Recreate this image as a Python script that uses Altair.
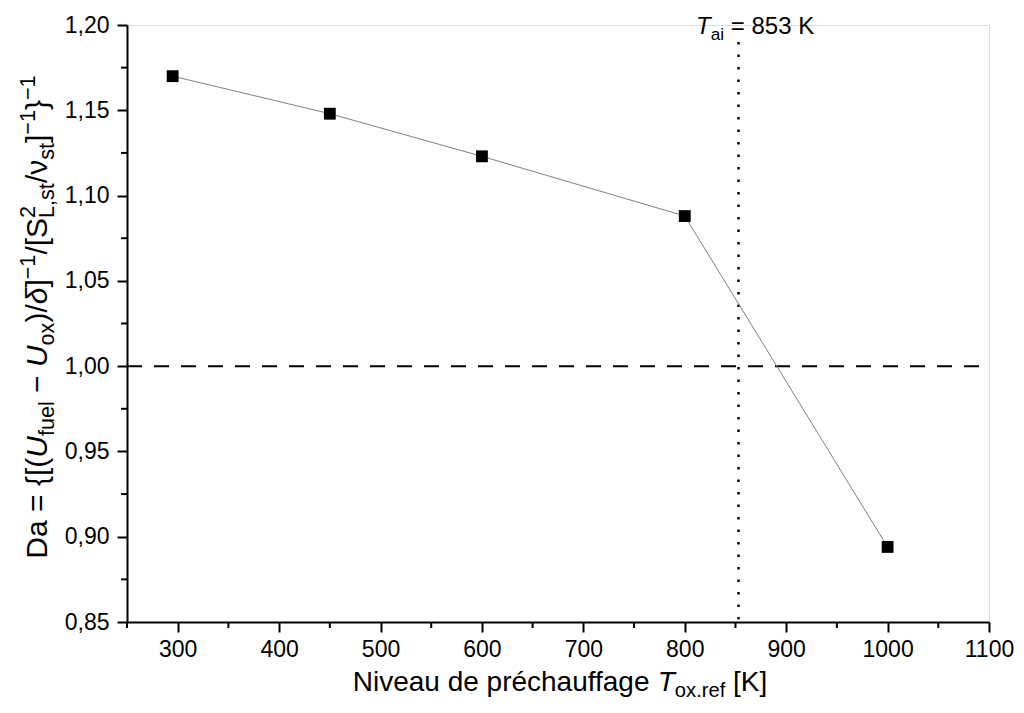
import altair as alt
import pandas as pd

# ---------------- data ----------------
T_ref = [295, 450, 600, 800, 1000]
Da = [1.170, 1.148, 1.123, 1.088, 0.894]
Da_ref = 1.0
T_ai = 853
x_ticks = [300, 400, 500, 600, 700, 800, 900, 1000, 1100]
x_minor = [250, 350, 450, 550, 650, 750, 850, 950, 1050]
y_ticks = [0.85, 0.90, 0.95, 1.00, 1.05, 1.10, 1.15, 1.20]
y_minor = [0.875, 0.925, 0.975, 1.025, 1.075, 1.125, 1.175]

# ---------------- layout ----------------
W, H = 862, 597
PAD_L, PAD_T = 119, 17
PAD_R = 1008 - PAD_L - W
PAD_B = 697 - PAD_T - H
MARGIN = 8
FONT = "Liberation Sans"


def px(xs):
    return xs - MARGIN - PAD_L


def py(ys):
    return ys - MARGIN - PAD_T


# Arial / Liberation Sans advance widths (per em)
ADV = {
    " ": .278, "=": .584, "{": .334, "}": .334, "[": .278, "]": .278, "(": .333, ")": .333,
    "/": .278, ",": .278, ".": .278, "\u2212": .584, "D": .722, "a": .556, "U": .722,
    "f": .278, "u": .556, "e": .556, "l": .222, "o": .556, "x": .5, "S": .667, "L": .556,
    "s": .5, "t": .278, "\u03b4": .556, "\u03bd": .5, "T": .611, "i": .222, "K": .667,
    "N": .722, "v": .5, "d": .556, "p": .556, "r": .333, "\u00e9": .556, "c": .5,
    "h": .556, "g": .556,
}
for ch in "0123456789":
    ADV[ch] = .556


def tw(s):
    return sum(ADV.get(c, .556) for c in s)


def place(out, text, pos, shift, size, ital):
    lead = len(text) - len(text.lstrip(" "))
    core = text.strip(" ")
    if core:
        out.append((core, pos + lead * ADV[" "] * size, shift, size, ital))


def layout(segs, f, sub=0.7, sub_shift=0.24):
    out = []
    pos = 0.0
    for text, kind, ital in segs:
        if kind == "base":
            place(out, text, pos, 0.0, f, ital)
            pos += tw(text) * f
        elif kind == "sub":
            place(out, text, pos, sub_shift * f, f * sub, ital)
            pos += tw(text) * f * sub
        elif kind == "sup":
            place(out, text, pos, -0.40 * f, f * sub, ital)
            pos += tw(text) * f * sub
        elif kind == "stack":
            sp, sb = text
            place(out, sp, pos, -0.40 * f, f * sub, ital)
            place(out, sb, pos, sub_shift * f, f * sub, ital)
            pos += max(tw(sp), tw(sb)) * f * sub
    return out, pos


def text_layer(t, x, y, dx, dy, size, italic, angle=0):
    return alt.Chart(pd.DataFrame({"t": [t]})).mark_text(
        align="left", baseline="alphabetic", dx=dx, dy=dy, fontSize=size, font=FONT,
        fontStyle="italic" if italic else "normal", color="black", angle=angle,
    ).encode(x=alt.value(x), y=alt.value(y), text="t:N")


MINUS = "\u2212"
ytitle_segs = [
    ("Da = {[(", "base", False), ("U", "base", True), ("fuel", "sub", False),
    (" " + MINUS + " ", "base", False), ("U", "base", True), ("ox", "sub", False),
    (")/", "base", False), ("\u03b4", "base", True), ("]", "base", False),
    (MINUS + "1", "sup", False), ("/[S", "base", False), (("2", "L,st"), "stack", False),
    ("/\u03bd", "base", False), ("st", "sub", False), ("]", "base", False),
    (MINUS + "1", "sup", False), ("}", "base", False), (MINUS + "1", "sup", False),
]
xtitle_segs = [
    ("Niveau de pr\u00e9chauffage ", "base", False), ("T", "base", True),
    ("ox.ref", "sub", False), (" [K]", "base", False),
]
ann_segs = [("T", "base", True), ("ai", "sub", False), (" = 853 K", "base", False)]

text_layers = []

# y title (rotated, reading upward)
yf = 30
ysegs, ylen = layout(ytitle_segs, yf, 0.72)
y_center = 317
y_start = y_center + ylen / 2
for t, d, s, size, ital in ysegs:
    text_layers.append(text_layer(t, px(47), py(y_start), d, s, size, ital, angle=270))

# x title
xf = 28
xsegs, xlen = layout(xtitle_segs, xf, 0.72, 0.2)
x_start = 560 - xlen / 2
for t, d, s, size, ital in xsegs:
    text_layers.append(text_layer(t, px(x_start), py(691), d, s, size, ital))

# annotation
af = 24
asegs, alen = layout(ann_segs, af, 0.72)
for t, d, s, size, ital in asegs:
    text_layers.append(text_layer(t, px(696), py(34), d, s, size, ital))

# ---------------- marks ----------------
df = pd.DataFrame({"T": T_ref, "Da": Da})

xscale = alt.Scale(domain=[250, 1100], nice=False, zero=False)
yscale = alt.Scale(domain=[0.85, 1.20], nice=False, zero=False)

axis_common = dict(
    title=None, tickSize=10, tickWidth=2, domainWidth=2, domainColor="black",
    tickColor="black", labelColor="black", labelFontSize=23, labelFont=FONT,
    grid=False, labelOverlap=False, labelFlush=False,
)

base = alt.Chart(df)
line = base.mark_line(color="#808080", strokeWidth=1).encode(
    x=alt.X("T:Q", scale=xscale, axis=alt.Axis(values=x_ticks, format="d", labelPadding=6, **axis_common)),
    y=alt.Y("Da:Q", scale=yscale, axis=alt.Axis(
        values=y_ticks, labelPadding=8,
        labelExpr="replace(format(datum.value, '.2f'), '.', ',')", **axis_common)),
)
points = base.mark_square(size=140, color="black", opacity=1).encode(x="T:Q", y="Da:Q")

hline = alt.Chart(pd.DataFrame({"v": [Da_ref]})).mark_rule(
    color="black", strokeWidth=2, strokeDash=[15, 12]
).encode(y="v:Q", x=alt.value(0), x2=alt.value(W))

vline = alt.Chart(pd.DataFrame({"v": [T_ai]})).mark_rule(
    color="black", strokeWidth=2.5, strokeDash=[2.5, 10]
).encode(x="v:Q", y=alt.value(py(42)), y2=alt.value(H))

xminor = alt.Chart(pd.DataFrame({"v": x_minor})).mark_rule(color="black", strokeWidth=2).encode(
    x="v:Q", y=alt.value(H), y2=alt.value(H + 6))
yminor = alt.Chart(pd.DataFrame({"v": y_minor})).mark_rule(color="black", strokeWidth=2).encode(
    y="v:Q", x=alt.value(0), x2=alt.value(-6))

chart = alt.layer(hline, vline, line, points, xminor, yminor, *text_layers).properties(
    width=W, height=H,
    autosize=alt.AutoSizeParams(type="none"),
    padding={"left": PAD_L, "top": PAD_T, "right": PAD_R, "bottom": PAD_B},
).configure_view(strokeWidth=0).configure(background="white")

chart.save("out.html", embed_options={"renderer": "svg", "actions": False})
